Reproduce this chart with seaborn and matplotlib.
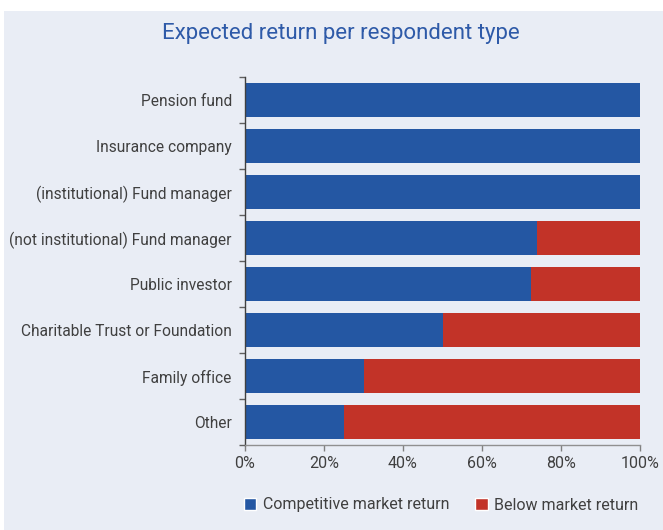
import numpy as np
import pandas as pd
import seaborn as sns
import matplotlib.pyplot as plt
from matplotlib.patches import Rectangle, Patch
from matplotlib.ticker import PercentFormatter, FixedLocator

# data (share of respondents, %)
respondent_types = ["Pension fund", "Insurance company", "(institutional) Fund manager",
                    "(not institutional) Fund manager", "Public investor",
                    "Charitable Trust or Foundation", "Family office", "Other"]
competitive = [100, 100, 100, 74, 72.5, 50, 30, 25]
below_market = [0, 0, 0, 26, 27.5, 50, 70, 75]

blue = "#2457A3"
red = "#C23328"
bg = "#E9EDF5"
text_col = "#404040"

sns.set_theme(style="white")
plt.rcParams['font.family'] = ['Roboto', 'DejaVu Sans']

df = pd.DataFrame({"type": respondent_types,
                   "competitive": competitive,
                   "below": below_market})
df["total"] = df["competitive"] + df["below"]

fig = plt.figure(figsize=(6.63, 5.3), dpi=100, facecolor="white")
fig.patches.append(Rectangle((4 / 663, 0), 1, (530 - 11) / 530, transform=fig.transFigure,
                             facecolor=bg, edgecolor="none", zorder=-1))
ax = fig.add_axes([245 / 663, 85 / 530, 395 / 663, 368 / 530])
ax.set_facecolor(bg)

# stacked bars: full stack in red, blue part on top
sns.barplot(data=df, x="total", y="type", color=red, width=0.76, saturation=1,
            linewidth=0, ax=ax)
sns.barplot(data=df, x="competitive", y="type", color=blue, width=0.76, saturation=1,
            linewidth=0, ax=ax)

ax.set_xlim(0, 100)
ax.set_ylim(7.5, -0.5)
ax.xaxis.set_major_locator(FixedLocator([0, 20, 40, 60, 80, 100]))
ax.xaxis.set_major_formatter(PercentFormatter(decimals=0))
ax.set_xlabel("")
ax.set_ylabel("")

# category labels without ticks, boundary ticks between bars
ax.tick_params(axis="y", which="major", length=0, pad=9.5, labelsize=11.2, labelcolor=text_col)
ax.set_yticks(np.arange(-0.5, 8.5, 1), minor=True)
ax.tick_params(axis="y", which="minor", left=True, length=4, width=1, color="#606060")
ax.tick_params(axis="x", bottom=True, length=4, width=1, color="#808080",
               labelsize=11.5, labelcolor=text_col, pad=4)

for s in ["top", "right"]:
    ax.spines[s].set_visible(False)
ax.spines["left"].set_color("#404040")
ax.spines["left"].set_linewidth(1)
ax.spines["bottom"].set_color("#909090")
ax.spines["bottom"].set_linewidth(1)

fig.text(341 / 663, 1 - 33 / 530, "Expected return per respondent type", ha="center",
         va="center", fontsize=16, color="#2E5AA8")

handles = [Patch(facecolor=blue, label="Competitive market return"),
           Patch(facecolor=red, label="Below market return")]
fig.legend(handles=handles, loc="center", bbox_to_anchor=(441 / 663, 1 - 505 / 530), ncol=2,
           frameon=False, fontsize=11.5, handlelength=0.8, handleheight=0.8,
           handletextpad=0.4, columnspacing=1.6, labelcolor=text_col)

fig.savefig("out.png", dpi=100, facecolor="white")
